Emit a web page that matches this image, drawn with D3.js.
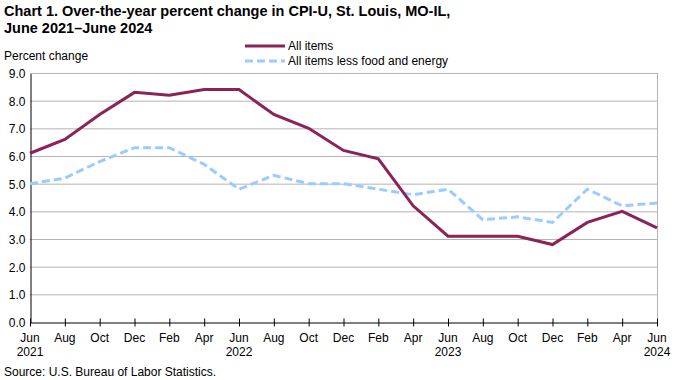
<!DOCTYPE html>
<html><head><meta charset="utf-8">
<script src="https://cdn.jsdelivr.net/npm/d3@7"></script>
<style>body{margin:0;background:#fff;} text{font-family:"Liberation Sans",Arial,sans-serif;}</style>
</head><body><svg id="c" width="680" height="380"></svg>
<script>
const months = ["Jun","Aug","Oct","Dec","Feb","Apr","Jun","Aug","Oct","Dec","Feb","Apr","Jun","Aug","Oct","Dec","Feb","Apr","Jun"];
const years = ["2021","","","","","","2022","","","","","","2023","","","","","","2024"];
const allItems = [6.1,6.6,7.5,8.3,8.2,8.4,8.4,7.5,7.0,6.2,5.9,4.2,3.1,3.1,3.1,2.8,3.6,4.0,3.4];
const core = [5.0,5.2,5.8,6.3,6.3,5.7,4.8,5.3,5.0,5.0,4.8,4.6,4.8,3.7,3.8,3.6,4.8,4.2,4.3];
const yTicks = [0,1,2,3,4,5,6,7,8,9];

const svg = d3.select("#c");
const L=30, R=657, T=73, B=322;
const x = d3.scaleLinear().domain([0, months.length-1]).range([L,R]);
const y = d3.scaleLinear().domain([0,9]).range([B,T]);

svg.append("text").attr("x",4).attr("y",16).attr("font-size",14.5).attr("font-weight","bold").text("Chart 1. Over-the-year percent change in CPI-U, St. Louis, MO-IL,");
svg.append("text").attr("x",4).attr("y",33).attr("font-size",14.5).attr("font-weight","bold").text("June 2021\u2013June 2024");
svg.append("text").attr("x",4).attr("y",60).attr("font-size",12).text("Percent change");

// grid
svg.append("g").selectAll("line").data(yTicks.filter(d=>d>0)).join("line")
  .attr("x1",L).attr("x2",R).attr("y1",d=>y(d)+0.5).attr("y2",d=>y(d)+0.5)
  .attr("stroke","#b4b4b4").attr("stroke-width",1);
// right border
svg.append("line").attr("x1",R+0.5).attr("x2",R+0.5).attr("y1",T).attr("y2",B).attr("stroke","#b4b4b4");

// y axis
const ya = svg.append("g").attr("transform",`translate(${L+0.5},0.5)`)
  .call(d3.axisLeft(y).tickValues(yTicks).tickFormat(d3.format(".1f")).tickSize(0).tickPadding(5));
ya.select(".domain").attr("stroke","#000");
ya.selectAll("text").attr("font-size",12).attr("fill","#000").style("font-family","Liberation Sans, Arial, sans-serif");

// x axis
const xa = svg.append("g").attr("transform",`translate(0,${B+0.5})`)
  .call(d3.axisBottom(x).tickValues(d3.range(months.length)).tickFormat("").tickSizeInner(4).tickSizeOuter(0));
xa.select(".domain").attr("stroke","#000");
xa.selectAll(".tick line").attr("y1",-4).attr("y2",4).attr("stroke","#000");
const lbl = svg.append("g");
lbl.selectAll("text.m").data(months).join("text").attr("class","m")
  .attr("x",(d,i)=>x(i)).attr("y",342).attr("text-anchor","middle").attr("font-size",12).text(d=>d);
lbl.selectAll("text.yr").data(years).join("text").attr("class","yr")
  .attr("x",(d,i)=>x(i)).attr("y",356).attr("text-anchor","middle").attr("font-size",12).text(d=>d);

const line = d3.line().x((d,i)=>x(i)).y(d=>y(d));
svg.append("path").datum(core).attr("d",line).attr("fill","none").attr("stroke","#99ccff").attr("stroke-width",3).attr("stroke-dasharray","8,4");
svg.append("path").datum(allItems).attr("d",line).attr("fill","none").attr("stroke","#8b2356").attr("stroke-width",3);

// legend
svg.append("line").attr("x1",245).attr("x2",285).attr("y1",46).attr("y2",46).attr("stroke","#8b2356").attr("stroke-width",3);
svg.append("text").attr("x",288).attr("y",50).attr("font-size",12).text("All items");
svg.append("line").attr("x1",245).attr("x2",285).attr("y1",61).attr("y2",61).attr("stroke","#99ccff").attr("stroke-width",3).attr("stroke-dasharray","8,4");
svg.append("text").attr("x",288).attr("y",65).attr("font-size",12).text("All items less food and energy");

svg.append("text").attr("x",4).attr("y",376).attr("font-size",12).text("Source: U.S. Bureau of Labor Statistics.");
</script></body></html>
